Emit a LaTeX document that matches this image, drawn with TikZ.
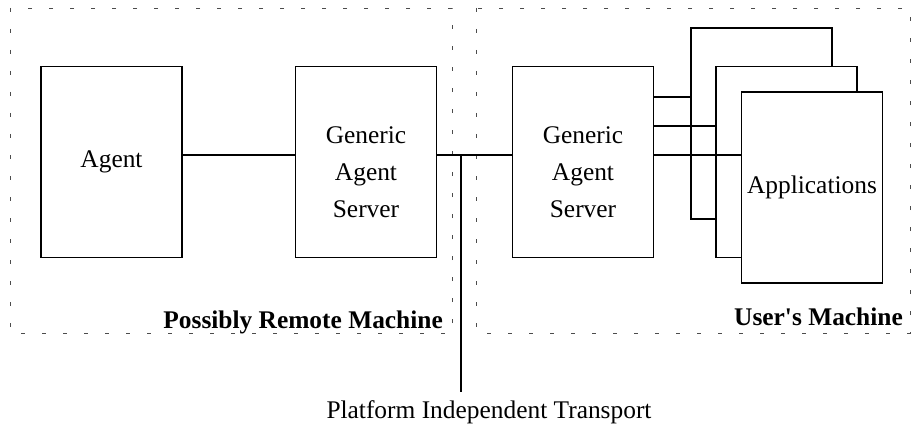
\documentclass[tikz,border=0pt]{standalone}
\usepackage{fontspec}
\setmainfont{Liberation Serif}
\newcommand\upquote{\XeTeXglyph\XeTeXglyphindex"quotesingle"\relax}
\begin{document}
\begin{tikzpicture}[x=1pt,y=-1pt,
  box/.style={draw,line width=1.4pt,fill=white,minimum width=141pt,minimum height=191pt,inner sep=0pt,align=center,font=\fontsize{25.4}{37}\selectfont},
  boxtext/.style={inner sep=0pt,align=center,font=\fontsize{25.4}{37}\selectfont},
  zone/.style={draw=black!70,line width=0.8pt,dash pattern=on 4pt off 17pt},
  zonelabel/.style={font=\fontsize{25.4}{28}\selectfont\bfseries,inner sep=0pt},
  link/.style={line width=1.4pt}]
\useasboundingbox (0,0) rectangle (915,425);
% the two machines
\draw[zone] (10,8) rectangle (452,333);
\draw[zone] (476,8) rectangle (910,333);
\node[zonelabel,anchor=base east] (remotelbl) at (443,328) {Possibly Remote Machine};
\node[zonelabel,anchor=base east] (userlbl) at (903,325) {User\upquote s Machine};
% boxes
\node[box] (agent) at (111.5,162) {Agent};
\node[box] (gasl) at (366,162) {};
\node[box] (gasr) at (583,162) {};
\node[boxtext] (gasltext) at ([yshift=-10pt]gasl.center) {Generic\\Agent\\Server};
\node[boxtext] (gasrtext) at ([yshift=-10pt]gasr.center) {Generic\\Agent\\Server};
\node[box] (appa) at (761.5,123.5) {};
\node[box] (appb) at (786.5,162) {};
\node[box] (appc) at (812,187.5) {Applications};
% connections
\coordinate (bus) at (0,155);
\coordinate (tp) at (461,392);
\draw[link] (agent.east |- bus) -- (gasl.west |- bus);
\draw[link] (gasl.east |- bus) -- (gasr.west |- bus);
\draw[link] (tp |- bus) -- (tp);
\draw[link] (gasr.east |- 0,97) -- (appa.west |- 0,97);
\draw[link] (gasr.east |- 0,126) -- (appb.west |- 0,126);
\draw[link] (gasr.east |- bus) -- (appc.west |- bus);
\node[font=\fontsize{25.4}{28}\selectfont,inner sep=0pt,anchor=base] (tplbl) at (489,418) {Platform Independent Transport};
\end{tikzpicture}
\end{document}
